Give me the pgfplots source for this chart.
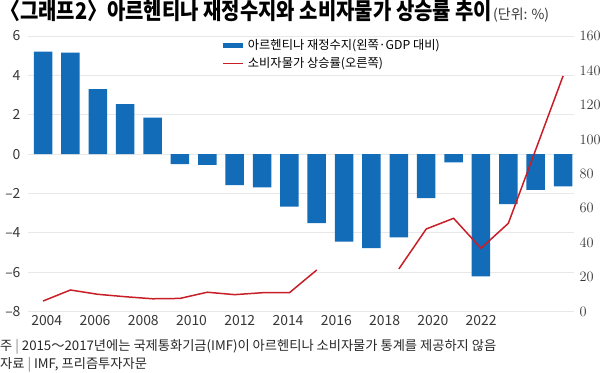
\documentclass[border=0pt]{standalone}
\usepackage{pgfplots}
\pgfplotsset{compat=1.18}
\usepackage{pgfplotstable}
\usepackage{fontspec}
\setmainfont{Noto Sans CJK KR}
\newfontfamily\titlefont[FakeStretch=0.87]{Noto Sans CJK KR}
\definecolor{barblue}{RGB}{18,108,184}
\definecolor{linered}{RGB}{200,30,40}
\definecolor{gridgray}{RGB}{232,232,232}
\definecolor{ticktext}{RGB}{55,55,55}

\pgfplotstableread{
x bal
0 5.21
1 5.16
2 3.30
3 2.54
4 1.86
5 -0.51
6 -0.54
7 -1.57
8 -1.69
9 -2.66
10 -3.50
11 -4.44
12 -4.77
13 -4.23
14 -2.23
15 -0.42
16 -6.21
17 -2.54
18 -1.81
19 -1.64
}\balance

\pgfplotstableread{
x cpi
0 6.2
1 12.6
2 10.1
3 8.7
4 7.5
5 7.7
6 11.3
7 9.9
8 11.0
9 11.0
10 24.2
11 nan
12 nan
13 24.8
14 48.0
15 54.2
16 36.8
17 51.3
18 94.0
19 136.8
}\cpi

\pgfplotsset{
  base/.style={scale only axis, width=546bp, height=275.7bp,
    xmin=-0.55, xmax=19.4, at={(28bp,60.3bp)}, anchor=south west,
    major tick length=0pt,
    tick label style={font=\fontsize{14}{14}\selectfont, text=ticktext},
  },
  legend image code/.code={\draw[#1] (0bp,0bp) -- (20bp,0bp);},
}

\begin{document}
\begin{tikzpicture}[x=1bp,y=1bp]
\useasboundingbox (0,0) rectangle (600,372);

\begin{axis}[base,
  ymin=-8, ymax=6,
  ytick={-8,-6,-4,-2,0,2,4,6},
  yticklabels={–8,–6,–4,–2,0,2,4,6},
  ymajorgrids, grid style={gridgray, line width=0.9bp},
  axis line style={draw=none},
  xtick={0.135,1.898,3.661,5.424,7.187,8.95,10.713,12.476,14.239,16.002},
  xticklabels={2004,2006,2008,2010,2012,2014,2016,2018,2020,2022},
  yticklabel style={xshift=-4bp},
  ybar, bar width=18.5bp,
]
\addplot[fill=barblue, draw=none] table[x=x,y=bal]{\balance};
\end{axis}

\begin{axis}[base,
  ymin=0, ymax=160,
  axis y line*=right, axis x line=none,
  ytick={0,20,...,160},
  y axis line style={draw=none},
  yticklabel style={xshift=2bp},
  unbounded coords=jump,
  legend style={at={(axis description cs:0.353,0.995)}, anchor=north west,
    draw=none, fill=none, inner sep=0pt,
    font=\fontsize{12.3}{12.3}\selectfont, row sep=2.5bp, cells={anchor=west}},
]
\addlegendimage{barblue, line width=5bp}
\addlegendentry{아르헨티나 재정수지(왼쪽·GDP 대비)}
\addplot[linered, line width=1.5bp, mark=none] table[x=x,y=cpi]{\cpi};
\addlegendentry{소비자물가 상승률(오른쪽)}
\end{axis}

\node[anchor=base west, inner sep=0pt, font=\titlefont\bfseries\fontsize{23}{23}\selectfont] at (0,353) {〈그래프2〉아르헨티나 재정수지와 소비자물가 상승률 추이};
\node[anchor=base west, inner sep=0pt, font=\fontsize{14}{14}\selectfont, text=ticktext] at (493,353) {(단위: \%)};

\node[anchor=base west, inner sep=0pt, font=\fontsize{13.3}{13.3}\selectfont, text=black!85] at (0,22) {주 {\color{black!50}|} 2015～2017년에는 국제통화기금(IMF)이 아르헨티나 소비자물가 통계를 제공하지 않음};
\node[anchor=base west, inner sep=0pt, font=\fontsize{13.3}{13.3}\selectfont, text=black!85] at (0,4) {자료 {\color{black!50}|} IMF, 프리즘투자자문};
\end{tikzpicture}
\end{document}
